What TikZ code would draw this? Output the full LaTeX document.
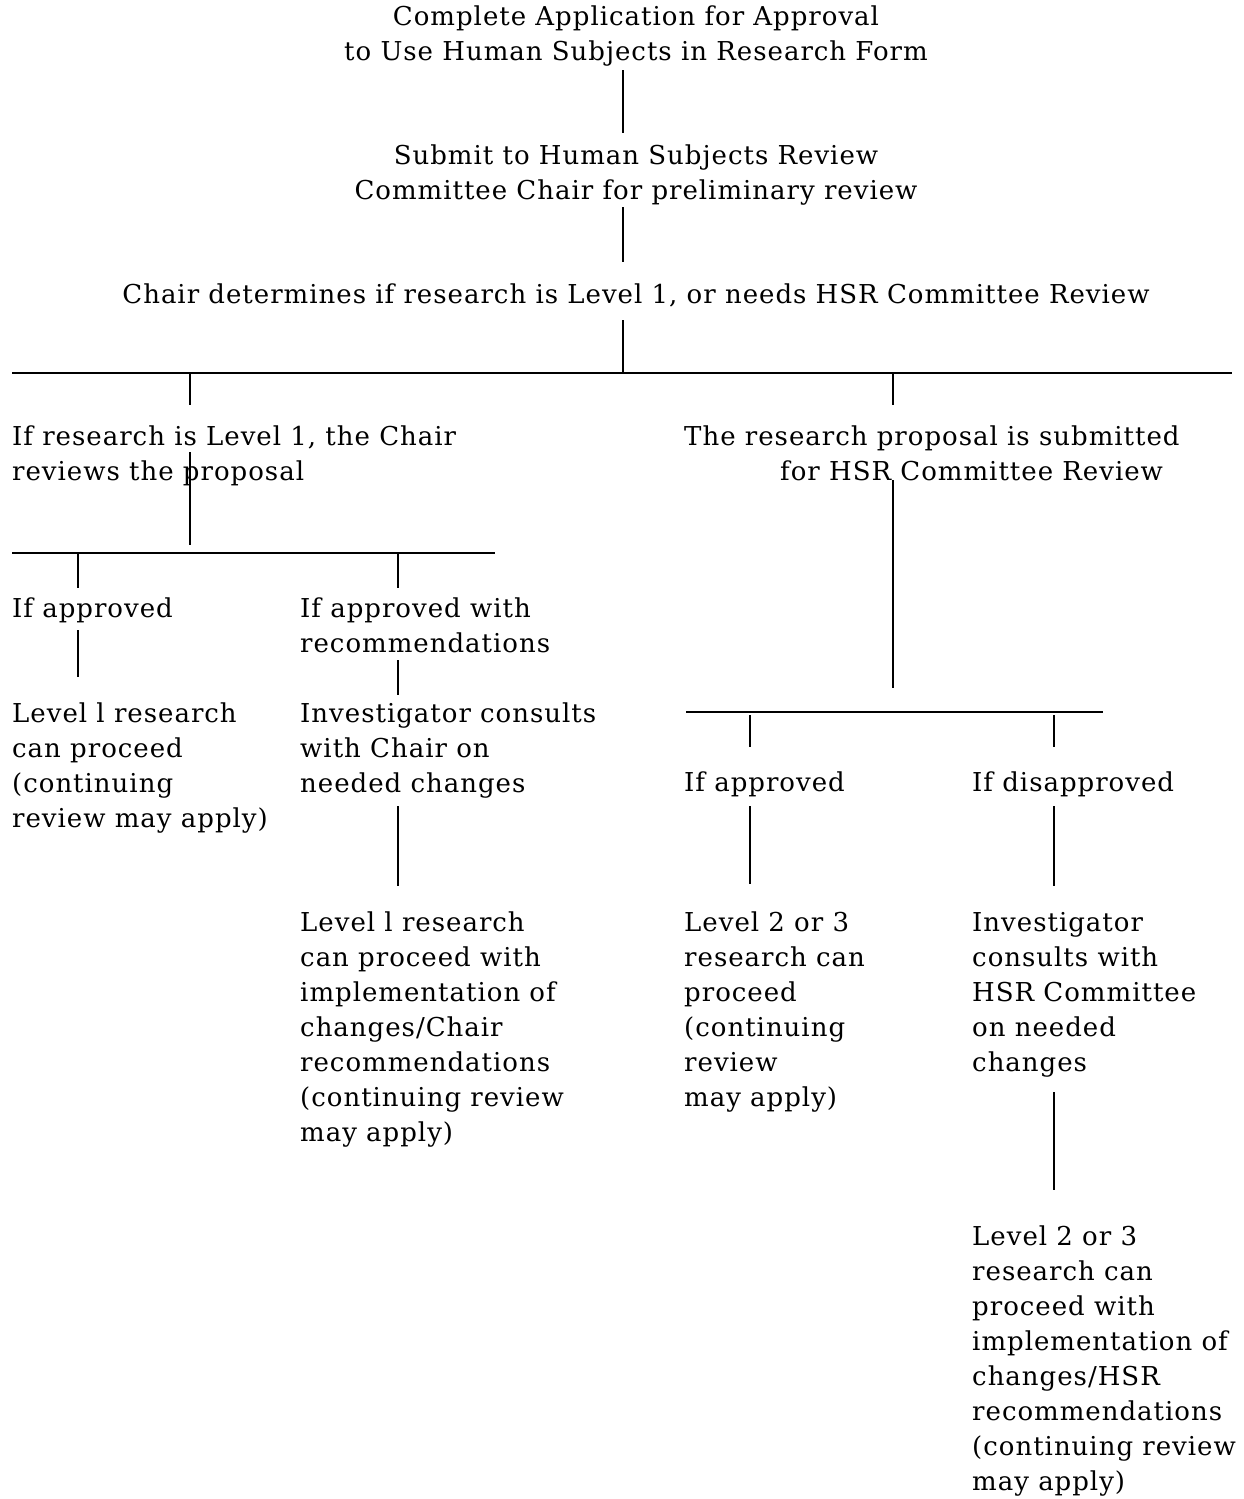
\documentclass[tikz,border=0pt]{standalone}
\usepackage{fontspec}
\setmainfont{DejaVu Serif}[LetterSpace=3.8]
\begin{document}
\begin{tikzpicture}[x=1pt,y=-1pt,
  txt/.style={inner sep=0pt,font=\fontsize{26}{35}\selectfont},
  lft/.style={txt,anchor=base west},
  ctr/.style={txt,anchor=base},
  ln/.style={line width=1.6pt}]
\useasboundingbox (0,0) rectangle (1244,1499);
\newcommand\Ltab[1]{\begin{tabular}[t]{@{}l@{}}#1\end{tabular}}
\newcommand\Ctab[1]{\begin{tabular}[t]{@{}c@{}}#1\end{tabular}}
% texts
\node[ctr] (t1) at (636,25) {\Ctab{Complete Application for Approval\\to Use Human Subjects in Research Form}};
\node[ctr] (t2) at (636,164) {\Ctab{Submit to Human Subjects Review\\Committee Chair for preliminary review}};
\node[ctr] (t3) at (636,303) {Chair determines if research is Level 1, or needs HSR Committee Review};
\node[lft] (l1) at (12,445) {\Ltab{If research is Level 1, the Chair\\reviews the proposal}};
\node[lft] (r1) at (684,445) {\Ltab{The research proposal is submitted\\\hspace*{96pt}for HSR Committee Review}};
\node[lft] (l2a) at (12,617) {If approved};
\node[lft] (l2b) at (300,617) {\Ltab{If approved with\\recommendations}};
\node[lft] (l3a) at (12,722) {\Ltab{Level l research\\can proceed\\(continuing\\review may apply)}};
\node[lft] (l3b) at (300,722) {\Ltab{Investigator consults\\with Chair on\\needed changes}};
\node[lft] (l4b) at (300,931) {\Ltab{Level l research\\can proceed with\\implementation of\\changes/Chair\\recommendations\\(continuing review\\may apply)}};
\node[lft] (r2a) at (684,791) {If approved};
\node[lft] (r2b) at (972,791) {If disapproved};
\node[lft] (r3a) at (684,931) {\Ltab{Level 2 or 3\\research can\\proceed\\(continuing\\review\\may apply)}};
\node[lft] (r3b) at (972,931) {\Ltab{Investigator\\consults with\\HSR Committee\\on needed\\changes}};
\node[lft] (r4b) at (972,1245) {\Ltab{Level 2 or 3\\research can\\proceed with\\implementation of\\changes/HSR\\recommendations\\(continuing review\\may apply)}};
% connector coordinates
\coordinate (a1) at (623,70);  \coordinate (a2) at (623,133);
\coordinate (b1) at (623,207); \coordinate (b2) at (623,262);
\coordinate (c1) at (623,320); \coordinate (c2) at (623,373);
\coordinate (hL) at (12,373);  \coordinate (hR) at (1232,373);
\coordinate (d1) at (190,373); \coordinate (d2) at (190,405);
\coordinate (e1) at (893,373); \coordinate (e2) at (893,405);
\coordinate (f1) at (190,452); \coordinate (f2) at (190,545);
\coordinate (gL) at (12,553);  \coordinate (gR) at (495,553);
\coordinate (g1) at (78,553);  \coordinate (g2) at (78,588);
\coordinate (g3) at (398,553); \coordinate (g4) at (398,588);
\coordinate (h1) at (78,630);  \coordinate (h2) at (78,677);
\coordinate (h3) at (398,660); \coordinate (h4) at (398,695);
\coordinate (i1) at (398,806); \coordinate (i2) at (398,886);
\coordinate (j1) at (893,480); \coordinate (j2) at (893,688);
\coordinate (kL) at (686,712); \coordinate (kR) at (1103,712);
\coordinate (k1) at (750,715); \coordinate (k2) at (750,747);
\coordinate (k3) at (1054,715); \coordinate (k4) at (1054,747);
\coordinate (m1) at (750,806); \coordinate (m2) at (750,884);
\coordinate (m3) at (1054,806); \coordinate (m4) at (1054,886);
\coordinate (n1) at (1054,1092); \coordinate (n2) at (1054,1190);
% connectors
\draw[ln] (a1) -- (a2);
\draw[ln] (b1) -- (b2);
\draw[ln] (c1) -- (c2);
\draw[ln] (hL) -- (hR);
\draw[ln] (d1) -- (d2);
\draw[ln] (e1) -- (e2);
\draw[ln] (f1) -- (f2);
\draw[ln] (gL) -- (gR);
\draw[ln] (g1) -- (g2);
\draw[ln] (g3) -- (g4);
\draw[ln] (h1) -- (h2);
\draw[ln] (h3) -- (h4);
\draw[ln] (i1) -- (i2);
\draw[ln] (j1) -- (j2);
\draw[ln] (kL) -- (kR);
\draw[ln] (k1) -- (k2);
\draw[ln] (k3) -- (k4);
\draw[ln] (m1) -- (m2);
\draw[ln] (m3) -- (m4);
\draw[ln] (n1) -- (n2);
\end{tikzpicture}
\end{document}
